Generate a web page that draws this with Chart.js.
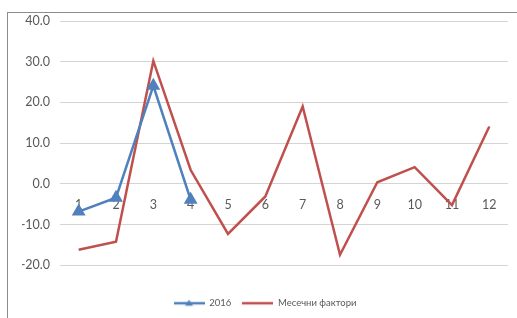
<!DOCTYPE html>
<html lang="bg">
<head>
  <meta charset="UTF-8">
  <title>Месечни фактори</title>
  <script src="https://cdn.jsdelivr.net/npm/chart.js"></script>
  <style>
    body { margin: 0; background: #fff; overflow: hidden; }
    .frame {
      position: absolute; left: 7px; top: 12px;
      width: 600px; height: 400px;
      border: 1px solid #8c8c8c;
    }
    .wrap { position: absolute; left: 0; top: 0; width: 517px; height: 318px; }
  </style>
</head>
<body>
  <div class="frame"></div>
  <div class="wrap"><canvas id="chart"></canvas></div>

  <script>
    const months = ['1', '2', '3', '4', '5', '6', '7', '8', '9', '10', '11', '12'];
    const series2016 = [-6.8, -3.4, 24.1, -3.9, null, null, null, null, null, null, null, null];
    const monthlyFactors = [-16.2, -14.2, 30.2, 3.4, -12.3, -3.1, 19.0, -17.4, 0.4, 4.1, -5.2, 14.1];

    const BLUE = '#4f81bd';
    const RED = '#c0504d';

    // small legend pictures: line with marker / plain line
    function legendIcon(color, withTriangle) {
      const c = document.createElement('canvas');
      c.width = 31; c.height = 10;
      const g = c.getContext('2d');
      g.strokeStyle = color;
      g.lineWidth = 2.5;
      g.beginPath();
      g.moveTo(0, 5); g.lineTo(31, 5);
      g.stroke();
      if (withTriangle) {
        g.fillStyle = color;
        g.beginPath();
        g.moveTo(15.5, 1.5); g.lineTo(19.5, 7.5); g.lineTo(11.5, 7.5);
        g.closePath();
        g.fill();
      }
      return c;
    }
    const icons = [legendIcon(BLUE, true), legendIcon(RED, false)];

    new Chart(document.getElementById('chart'), {
      type: 'line',
      data: {
        labels: months,
        datasets: [{
          label: '2016',
          data: series2016,
          borderColor: BLUE,
          backgroundColor: BLUE,
          borderWidth: 2.5,
          pointStyle: 'triangle',
          pointRadius: 8,
          pointHoverRadius: 8,
          pointBorderWidth: 0,
          tension: 0
        }, {
          label: 'Месечни фактори',
          data: monthlyFactors,
          borderColor: RED,
          backgroundColor: RED,
          borderWidth: 2.5,
          pointRadius: 0,
          tension: 0
        }]
      },
      options: {
        responsive: true,
        maintainAspectRatio: false,
        animation: false,
        layout: { padding: { left: 22, right: 9, top: 21, bottom: 0 } },
        scales: {
          x: {
            position: { y: 0 },
            offset: true,
            grid: { display: false },
            border: { display: false },
            ticks: {
              color: '#595959',
              padding: 6,
              maxRotation: 0,
              font: { family: 'Lato', size: 12.5 }
            }
          },
          y: {
            min: -20,
            max: 40,
            grid: { color: '#d4d4d4', lineWidth: 1, drawTicks: false },
            border: { display: false },
            ticks: {
              stepSize: 10,
              color: '#595959',
              padding: 10,
              font: { family: 'Lato', size: 12.5 },
              callback: v => v.toFixed(1)
            },
            afterFit(scale) { scale.width = 38; }
          }
        },
        plugins: {
          tooltip: { enabled: false },
          legend: {
            position: 'bottom',
            // empty title only keeps the gap between the plot and the legend
            title: { display: true, text: ' ', font: { size: 1 }, padding: { top: 21, bottom: 0 } },
            labels: {
              usePointStyle: true,
              pointStyleWidth: 31,
              padding: 11,
              color: '#595959',
              font: { family: 'Lato', size: 9.5 },
              generateLabels(chart) {
                const items = Chart.defaults.plugins.legend.labels.generateLabels(chart);
                items.forEach((it, i) => { it.pointStyle = icons[i]; });
                return items;
              }
            }
          }
        }
      }
    });
  </script>
</body>
</html>
